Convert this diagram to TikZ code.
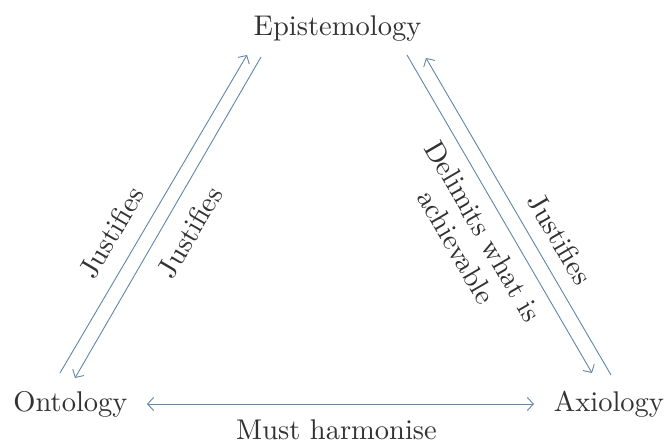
\documentclass[tikz,border=0pt]{standalone}
\usetikzlibrary{arrows.meta}
\definecolor{arrowblue}{RGB}{96,134,172}
\definecolor{textgray}{RGB}{50,50,50}
\newcommand{\bigtxt}[1]{\scalebox{2.85}{\fontsize{10}{10.9}\selectfont #1}}
\begin{document}
\begin{tikzpicture}[x=1pt,y=-1pt,
  term/.style={inner sep=0pt, anchor=base, text=textgray},
  lbl/.style={inner sep=0pt, text=textgray},
  link/.style={draw=arrowblue, line width=0.9pt, -{Straight Barb[length=6pt,width=13pt,line width=0.9pt]}},
  dlink/.style={draw=arrowblue, line width=0.9pt, {Straight Barb[length=6pt,width=13pt,line width=0.9pt]}-{Straight Barb[length=6pt,width=13pt,line width=0.9pt]}}]
\useasboundingbox (0,0) rectangle (668,441);
% terms
\node[term] (E) at (337.5,36) {\bigtxt{Epistemology}};
\node[term] (O) at (70.5,411) {\bigtxt{Ontology}};
\node[term] (A) at (609,411) {\bigtxt{Axiology}};
% connector end points
\coordinate (l1a) at (60,373);
\coordinate (l1b) at (247,55);
\coordinate (l2a) at (261,57);
\coordinate (l2b) at (75,378);
\coordinate (r1a) at (407,55);
\coordinate (r1b) at (592,373);
\coordinate (r2a) at (611,375);
\coordinate (r2b) at (426,58);
\coordinate (ha) at (147,404);
\coordinate (hb) at (534,404);
% connectors
\draw[link] (l1a) -- (l1b);
\draw[link] (l2a) -- (l2b);
\draw[link] (r1a) -- (r1b);
\draw[link] (r2a) -- (r2b);
\draw[dlink] (ha) -- (hb);
% labels
\node[lbl, rotate=59.6] (j1) at (111.5,232.5) {\bigtxt{Justifies}};
\node[lbl, rotate=59.6] (j2) at (190,232) {\bigtxt{Justifies}};
\node[lbl, rotate=-59.8] (d1) at (467,241) {\bigtxt{\begin{tabular}{@{}c@{}}Delimits what is\\achievable\end{tabular}}};
\node[lbl, rotate=-59.8] (j3) at (560,239) {\bigtxt{Justifies}};
\node[term] (M) at (336.5,439) {\bigtxt{Must harmonise}};
\end{tikzpicture}
\end{document}
